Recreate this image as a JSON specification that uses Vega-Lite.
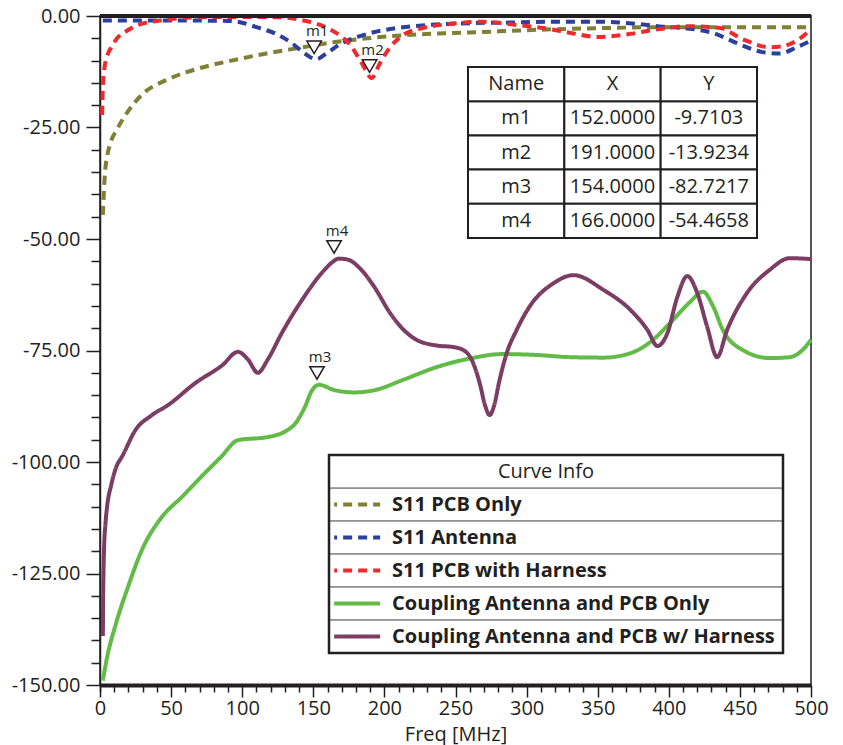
{
 "$schema": "https://vega.github.io/schema/vega-lite/v6.json",
 "width": 711,
 "height": 669,
 "autosize": {"type": "none"},
 "padding": {"left": 100, "top": 16, "right": 32, "bottom": 60},
 "background": "white",
 "config": {
  "font": "Open Sans",
  "locale": {"number": {"decimal": ".", "thousands": ",", "grouping": [3], "currency": ["$", ""], "minus": "-"}},
  "view": {"stroke": "#555555", "strokeWidth": 2}
 },
 "datasets": {
  "curves": [
   {"curve":"S11 PCB Only","freq":2,"value":-44.6},{"curve":"S11 PCB Only","freq":3.5,"value":-35.2},{"curve":"S11 PCB Only","freq":5,"value":-31.5},{"curve":"S11 PCB Only","freq":7,"value":-28.8},{"curve":"S11 PCB Only","freq":12,"value":-25.4},{"curve":"S11 PCB Only","freq":19,"value":-21.7},{"curve":"S11 PCB Only","freq":30,"value":-17.5},{"curve":"S11 PCB Only","freq":47,"value":-14.3},{"curve":"S11 PCB Only","freq":70,"value":-11.7},{"curve":"S11 PCB Only","freq":94,"value":-9.9},{"curve":"S11 PCB Only","freq":117,"value":-8.4},{"curve":"S11 PCB Only","freq":141,"value":-7.1},{"curve":"S11 PCB Only","freq":164,"value":-5.9},{"curve":"S11 PCB Only","freq":188,"value":-5},{"curve":"S11 PCB Only","freq":225,"value":-4.1},{"curve":"S11 PCB Only","freq":260,"value":-3.7},{"curve":"S11 PCB Only","freq":307,"value":-3.1},{"curve":"S11 PCB Only","freq":354,"value":-2.7},{"curve":"S11 PCB Only","freq":401,"value":-2.5},{"curve":"S11 PCB Only","freq":448,"value":-2.5},{"curve":"S11 PCB Only","freq":500,"value":-2.5},
   {"curve":"S11 Antenna","freq":2,"value":-1},{"curve":"S11 Antenna","freq":50,"value":-1},{"curve":"S11 Antenna","freq":90,"value":-1.1},{"curve":"S11 Antenna","freq":100,"value":-1.5},{"curve":"S11 Antenna","freq":110,"value":-2.5},{"curve":"S11 Antenna","freq":123,"value":-3.9},{"curve":"S11 Antenna","freq":135,"value":-6.1},{"curve":"S11 Antenna","freq":144,"value":-8.4},{"curve":"S11 Antenna","freq":152,"value":-9.7},{"curve":"S11 Antenna","freq":160,"value":-8.2},{"curve":"S11 Antenna","freq":170,"value":-6.1},{"curve":"S11 Antenna","freq":181,"value":-4.7},{"curve":"S11 Antenna","freq":193,"value":-3.6},{"curve":"S11 Antenna","freq":209,"value":-2.7},{"curve":"S11 Antenna","freq":232,"value":-2},{"curve":"S11 Antenna","freq":260,"value":-1.6},{"curve":"S11 Antenna","freq":283,"value":-1.5},{"curve":"S11 Antenna","freq":319,"value":-1.3},{"curve":"S11 Antenna","freq":354,"value":-1.3},{"curve":"S11 Antenna","freq":378,"value":-1.8},{"curve":"S11 Antenna","freq":396,"value":-2.4},{"curve":"S11 Antenna","freq":413,"value":-2.8},{"curve":"S11 Antenna","freq":431,"value":-3.8},{"curve":"S11 Antenna","freq":448,"value":-6.1},{"curve":"S11 Antenna","freq":466,"value":-8.1},{"curve":"S11 Antenna","freq":478,"value":-8.4},{"curve":"S11 Antenna","freq":490,"value":-7},{"curve":"S11 Antenna","freq":500,"value":-5.5},
   {"curve":"S11 PCB with Harness","freq":1.5,"value":-22.2},{"curve":"S11 PCB with Harness","freq":2,"value":-16},{"curve":"S11 PCB with Harness","freq":3,"value":-12},{"curve":"S11 PCB with Harness","freq":5,"value":-9},{"curve":"S11 PCB with Harness","freq":8,"value":-7},{"curve":"S11 PCB with Harness","freq":12,"value":-5},{"curve":"S11 PCB with Harness","freq":18,"value":-3.5},{"curve":"S11 PCB with Harness","freq":27,"value":-2},{"curve":"S11 PCB with Harness","freq":45,"value":-0.9},{"curve":"S11 PCB with Harness","freq":70,"value":-0.3},{"curve":"S11 PCB with Harness","freq":100,"value":-0.2},{"curve":"S11 PCB with Harness","freq":128,"value":-0.3},{"curve":"S11 PCB with Harness","freq":140,"value":-0.8},{"curve":"S11 PCB with Harness","freq":150,"value":-1.5},{"curve":"S11 PCB with Harness","freq":160,"value":-2.7},{"curve":"S11 PCB with Harness","freq":168,"value":-4.2},{"curve":"S11 PCB with Harness","freq":176,"value":-6.5},{"curve":"S11 PCB with Harness","freq":184,"value":-10.5},{"curve":"S11 PCB with Harness","freq":191,"value":-13.9},{"curve":"S11 PCB with Harness","freq":197,"value":-10.5},{"curve":"S11 PCB with Harness","freq":204,"value":-7},{"curve":"S11 PCB with Harness","freq":213,"value":-4.3},{"curve":"S11 PCB with Harness","freq":227,"value":-2.7},{"curve":"S11 PCB with Harness","freq":246,"value":-1.8},{"curve":"S11 PCB with Harness","freq":269,"value":-1.3},{"curve":"S11 PCB with Harness","freq":293,"value":-2},{"curve":"S11 PCB with Harness","freq":312,"value":-2.7},{"curve":"S11 PCB with Harness","freq":331,"value":-3.8},{"curve":"S11 PCB with Harness","freq":350,"value":-4.7},{"curve":"S11 PCB with Harness","freq":373,"value":-4},{"curve":"S11 PCB with Harness","freq":390,"value":-3.1},{"curve":"S11 PCB with Harness","freq":413,"value":-2.3},{"curve":"S11 PCB with Harness","freq":436,"value":-2.7},{"curve":"S11 PCB with Harness","freq":452,"value":-5.2},{"curve":"S11 PCB with Harness","freq":471,"value":-7},{"curve":"S11 PCB with Harness","freq":480,"value":-6.8},{"curve":"S11 PCB with Harness","freq":490,"value":-5.5},{"curve":"S11 PCB with Harness","freq":500,"value":-3},
   {"curve":"Coupling Antenna and PCB Only","freq":2,"value":-149},{"curve":"Coupling Antenna and PCB Only","freq":5.5,"value":-143},{"curve":"Coupling Antenna and PCB Only","freq":10.5,"value":-137},{"curve":"Coupling Antenna and PCB Only","freq":19.7,"value":-128},{"curve":"Coupling Antenna and PCB Only","freq":29.5,"value":-119.7},{"curve":"Coupling Antenna and PCB Only","freq":43.6,"value":-112.3},{"curve":"Coupling Antenna and PCB Only","freq":57.7,"value":-107.8},{"curve":"Coupling Antenna and PCB Only","freq":74,"value":-102.4},{"curve":"Coupling Antenna and PCB Only","freq":85,"value":-98.9},{"curve":"Coupling Antenna and PCB Only","freq":97,"value":-95.1},{"curve":"Coupling Antenna and PCB Only","freq":118,"value":-94.4},{"curve":"Coupling Antenna and PCB Only","freq":131,"value":-93},{"curve":"Coupling Antenna and PCB Only","freq":137,"value":-91.5},{"curve":"Coupling Antenna and PCB Only","freq":144,"value":-87.7},{"curve":"Coupling Antenna and PCB Only","freq":149,"value":-84},{"curve":"Coupling Antenna and PCB Only","freq":154,"value":-82.7},{"curve":"Coupling Antenna and PCB Only","freq":165,"value":-83.9},{"curve":"Coupling Antenna and PCB Only","freq":179,"value":-84.4},{"curve":"Coupling Antenna and PCB Only","freq":193,"value":-83.9},{"curve":"Coupling Antenna and PCB Only","freq":213,"value":-81.6},{"curve":"Coupling Antenna and PCB Only","freq":237,"value":-78.7},{"curve":"Coupling Antenna and PCB Only","freq":260,"value":-76.8},{"curve":"Coupling Antenna and PCB Only","freq":283,"value":-75.8},{"curve":"Coupling Antenna and PCB Only","freq":307,"value":-76},{"curve":"Coupling Antenna and PCB Only","freq":331,"value":-76.5},{"curve":"Coupling Antenna and PCB Only","freq":354,"value":-76.6},{"curve":"Coupling Antenna and PCB Only","freq":373,"value":-75.6},{"curve":"Coupling Antenna and PCB Only","freq":387,"value":-73.1},{"curve":"Coupling Antenna and PCB Only","freq":401,"value":-68.8},{"curve":"Coupling Antenna and PCB Only","freq":415,"value":-64.1},{"curve":"Coupling Antenna and PCB Only","freq":424,"value":-61.8},{"curve":"Coupling Antenna and PCB Only","freq":431,"value":-65},{"curve":"Coupling Antenna and PCB Only","freq":438,"value":-70.4},{"curve":"Coupling Antenna and PCB Only","freq":452,"value":-74.9},{"curve":"Coupling Antenna and PCB Only","freq":471,"value":-76.7},{"curve":"Coupling Antenna and PCB Only","freq":485,"value":-76.5},{"curve":"Coupling Antenna and PCB Only","freq":494,"value":-74.9},{"curve":"Coupling Antenna and PCB Only","freq":500,"value":-72.6},
   {"curve":"Coupling Antenna and PCB w/ Harness","freq":2,"value":-139},{"curve":"Coupling Antenna and PCB w/ Harness","freq":2.3,"value":-128},{"curve":"Coupling Antenna and PCB w/ Harness","freq":2.8,"value":-120},{"curve":"Coupling Antenna and PCB w/ Harness","freq":3.8,"value":-114},{"curve":"Coupling Antenna and PCB w/ Harness","freq":5,"value":-110},{"curve":"Coupling Antenna and PCB w/ Harness","freq":8,"value":-105},{"curve":"Coupling Antenna and PCB w/ Harness","freq":11,"value":-101.5},{"curve":"Coupling Antenna and PCB w/ Harness","freq":16,"value":-98.5},{"curve":"Coupling Antenna and PCB w/ Harness","freq":25,"value":-92.8},{"curve":"Coupling Antenna and PCB w/ Harness","freq":36,"value":-89.6},{"curve":"Coupling Antenna and PCB w/ Harness","freq":48,"value":-87.2},{"curve":"Coupling Antenna and PCB w/ Harness","freq":67,"value":-82.3},{"curve":"Coupling Antenna and PCB w/ Harness","freq":86,"value":-78.3},{"curve":"Coupling Antenna and PCB w/ Harness","freq":97,"value":-75.3},{"curve":"Coupling Antenna and PCB w/ Harness","freq":104,"value":-77},{"curve":"Coupling Antenna and PCB w/ Harness","freq":111,"value":-80},{"curve":"Coupling Antenna and PCB w/ Harness","freq":118,"value":-77},{"curve":"Coupling Antenna and PCB w/ Harness","freq":128,"value":-71},{"curve":"Coupling Antenna and PCB w/ Harness","freq":142,"value":-63.7},{"curve":"Coupling Antenna and PCB w/ Harness","freq":156,"value":-57.6},{"curve":"Coupling Antenna and PCB w/ Harness","freq":163,"value":-55.3},{"curve":"Coupling Antenna and PCB w/ Harness","freq":168,"value":-54.4},{"curve":"Coupling Antenna and PCB w/ Harness","freq":174,"value":-54.6},{"curve":"Coupling Antenna and PCB w/ Harness","freq":184,"value":-57},{"curve":"Coupling Antenna and PCB w/ Harness","freq":193,"value":-60.8},{"curve":"Coupling Antenna and PCB w/ Harness","freq":204,"value":-66.6},{"curve":"Coupling Antenna and PCB w/ Harness","freq":213,"value":-70.2},{"curve":"Coupling Antenna and PCB w/ Harness","freq":222,"value":-72.5},{"curve":"Coupling Antenna and PCB w/ Harness","freq":237,"value":-73.9},{"curve":"Coupling Antenna and PCB w/ Harness","freq":248,"value":-74.2},{"curve":"Coupling Antenna and PCB w/ Harness","freq":256,"value":-75},{"curve":"Coupling Antenna and PCB w/ Harness","freq":262,"value":-77.5},{"curve":"Coupling Antenna and PCB w/ Harness","freq":267,"value":-82.3},{"curve":"Coupling Antenna and PCB w/ Harness","freq":271,"value":-87.5},{"curve":"Coupling Antenna and PCB w/ Harness","freq":274,"value":-89.5},{"curve":"Coupling Antenna and PCB w/ Harness","freq":277,"value":-87.5},{"curve":"Coupling Antenna and PCB w/ Harness","freq":281,"value":-81.6},{"curve":"Coupling Antenna and PCB w/ Harness","freq":286,"value":-75.6},{"curve":"Coupling Antenna and PCB w/ Harness","freq":293,"value":-70.4},{"curve":"Coupling Antenna and PCB w/ Harness","freq":302,"value":-65.2},{"curve":"Coupling Antenna and PCB w/ Harness","freq":319,"value":-59.9},{"curve":"Coupling Antenna and PCB w/ Harness","freq":333,"value":-58.1},{"curve":"Coupling Antenna and PCB w/ Harness","freq":354,"value":-61.4},{"curve":"Coupling Antenna and PCB w/ Harness","freq":373,"value":-65.9},{"curve":"Coupling Antenna and PCB w/ Harness","freq":385,"value":-70.4},{"curve":"Coupling Antenna and PCB w/ Harness","freq":392,"value":-74},{"curve":"Coupling Antenna and PCB w/ Harness","freq":396,"value":-73},{"curve":"Coupling Antenna and PCB w/ Harness","freq":399,"value":-71.1},{"curve":"Coupling Antenna and PCB w/ Harness","freq":406,"value":-63},{"curve":"Coupling Antenna and PCB w/ Harness","freq":413,"value":-58.3},{"curve":"Coupling Antenna and PCB w/ Harness","freq":420,"value":-62.1},{"curve":"Coupling Antenna and PCB w/ Harness","freq":427,"value":-69.7},{"curve":"Coupling Antenna and PCB w/ Harness","freq":434,"value":-76.5},{"curve":"Coupling Antenna and PCB w/ Harness","freq":441,"value":-70.4},{"curve":"Coupling Antenna and PCB w/ Harness","freq":455,"value":-62.1},{"curve":"Coupling Antenna and PCB w/ Harness","freq":471,"value":-56.9},{"curve":"Coupling Antenna and PCB w/ Harness","freq":485,"value":-54.3},{"curve":"Coupling Antenna and PCB w/ Harness","freq":500,"value":-54.5}
  ],
  "markers": [
   {"Name":"m1","X":152,"Y":-9.7103},
   {"Name":"m2","X":191,"Y":-13.9234},
   {"Name":"m3","X":154,"Y":-82.7217},
   {"Name":"m4","X":166,"Y":-54.4658}
  ],
  "tableHeader": [{"col":"Name"},{"col":"X"},{"col":"Y"}]
 },
 "resolve": {"scale": {"x": "independent", "y": "independent"}},
 "layer": [
  {
   "resolve": {"axis": {"x": "independent", "y": "independent"}},
   "layer": [
    {
     "data": {"name": "curves"},
     "mark": {"type": "line", "interpolate": "monotone", "strokeWidth": 4, "strokeCap": "butt"},
     "encoding": {
      "x": {"field": "freq", "type": "quantitative", "scale": {"domain": [0, 500], "nice": false, "zero": false},
       "axis": {"orient": "bottom", "title": "Freq [MHz]", "values": [0,50,100,150,200,250,300,350,400,450,500],
        "tickSize": 12, "tickWidth": 1.5, "tickColor": "#231f20", "domainColor": "#231f20", "domainWidth": 4,
        "grid": false, "labelFontSize": 20, "labelColor": "#231f20", "labelPadding": 1, "labelFlush": false, "labelOverlap": false,
        "titleFontSize": 20, "titleFontWeight": "normal", "titleColor": "#231f20", "titlePadding": 6}},
      "y": {"field": "value", "type": "quantitative", "scale": {"domain": [-150, 0], "nice": false, "zero": false},
       "axis": {"orient": "left", "title": null, "values": [-150,-125,-100,-75,-50,-25,0], "format": ".2f",
        "tickSize": 14, "tickWidth": 1.5, "tickColor": "#231f20", "domainColor": "#231f20", "domainWidth": 1.5,
        "grid": false, "labelFontSize": 20, "labelColor": "#231f20", "labelPadding": 6, "labelFlush": false, "labelOverlap": false}},
      "color": {"field": "curve", "type": "nominal", "legend": null,
       "scale": {"domain": ["S11 PCB Only","S11 Antenna","S11 PCB with Harness","Coupling Antenna and PCB Only","Coupling Antenna and PCB w/ Harness"],
        "range": ["#7f7f35","#2b3f9f","#ee2a2e","#62bb46","#7c3d65"]}},
      "strokeDash": {"field": "curve", "type": "nominal", "legend": null,
       "scale": {"domain": ["S11 PCB Only","S11 Antenna","S11 PCB with Harness","Coupling Antenna and PCB Only","Coupling Antenna and PCB w/ Harness"],
        "range": [[9,6],[9,6],[9,6],[1,0],[1,0]]}}
     }
    },
    {
     "data": {"values": [{}]},
     "mark": {"type": "rule", "strokeWidth": 4, "color": "#231f20"},
     "encoding": {"y": {"datum": 0, "type": "quantitative", "axis": null}}
    },
    {
     "data": {"name": "markers"},
     "mark": {"type": "point", "shape": "triangle-down", "filled": true, "fill": "white", "stroke": "#231f20", "strokeWidth": 1.5, "size": 210, "yOffset": -12, "xOffset": -2, "opacity": 1},
     "encoding": {
      "x": {"field": "X", "type": "quantitative",
       "axis": {"orient": "bottom", "title": null, "values": [0,10,20,30,40,60,70,80,90,110,120,130,140,160,170,180,190,210,220,230,240,260,270,280,290,310,320,330,340,360,370,380,390,410,420,430,440,460,470,480,490],
        "labels": false, "domain": false, "grid": false, "tickSize": 7, "tickWidth": 1.5, "tickColor": "#231f20"}},
      "y": {"field": "Y", "type": "quantitative",
       "axis": {"orient": "left", "title": null, "values": [-145,-140,-135,-130,-120,-115,-110,-105,-95,-90,-85,-80,-70,-65,-60,-55,-45,-40,-35,-30,-20,-15,-10,-5],
        "labels": false, "domain": false, "grid": false, "tickSize": 9, "tickWidth": 1.5, "tickColor": "#231f20"}}
     }
    },
    {
     "data": {"name": "markers"},
     "mark": {"type": "text", "fontSize": 15, "dy": -28, "dx": 1, "color": "#231f20"},
     "encoding": {"x": {"field": "X", "type": "quantitative", "axis": null}, "y": {"field": "Y", "type": "quantitative", "axis": null}, "text": {"field": "Name"}}
    }
   ]
  },
  {
   "layer": [
    {
     "data": {"name": "markers"},
     "transform": [{"fold": ["Name", "X", "Y"], "as": ["col", "val"]}],
     "mark": {"type": "rect", "fill": "white", "stroke": "#231f20", "strokeWidth": 2},
     "encoding": {
      "x": {"field": "col", "type": "nominal", "axis": null, "scale": {"type": "band", "domain": ["Name","X","Y"], "range": [368, 657], "paddingInner": 0, "paddingOuter": 0}},
      "y": {"field": "Name", "type": "nominal", "axis": null, "scale": {"type": "band", "domain": ["header","m1","m2","m3","m4"], "range": [51, 222], "paddingInner": 0, "paddingOuter": 0}}
     }
    },
    {
     "data": {"name": "tableHeader"},
     "mark": {"type": "rect", "fill": "white", "stroke": "#231f20", "strokeWidth": 2},
     "encoding": {
      "x": {"field": "col", "type": "nominal", "axis": null, "scale": {"type": "band", "domain": ["Name","X","Y"], "range": [368, 657], "paddingInner": 0, "paddingOuter": 0}},
      "y": {"datum": "header", "type": "nominal", "axis": null, "scale": {"type": "band", "domain": ["header","m1","m2","m3","m4"], "range": [51, 222], "paddingInner": 0, "paddingOuter": 0}}
     }
    },
    {
     "data": {"name": "tableHeader"},
     "mark": {"type": "text", "fontSize": 20, "color": "#231f20", "align": "center", "baseline": "middle"},
     "encoding": {
      "x": {"field": "col", "type": "nominal", "axis": null, "scale": {"type": "band", "domain": ["Name","X","Y"], "range": [368, 657], "paddingInner": 0, "paddingOuter": 0}},
      "y": {"datum": "header", "type": "nominal", "axis": null, "scale": {"type": "band", "domain": ["header","m1","m2","m3","m4"], "range": [51, 222], "paddingInner": 0, "paddingOuter": 0}},
      "text": {"field": "col"}
     }
    },
    {
     "data": {"name": "markers"},
     "mark": {"type": "text", "fontSize": 20, "color": "#231f20", "align": "center", "baseline": "middle"},
     "encoding": {
      "x": {"datum": "Name", "type": "nominal", "axis": null, "scale": {"type": "band", "domain": ["Name","X","Y"], "range": [368, 657], "paddingInner": 0, "paddingOuter": 0}},
      "y": {"field": "Name", "type": "nominal", "axis": null, "scale": {"type": "band", "domain": ["header","m1","m2","m3","m4"], "range": [51, 222], "paddingInner": 0, "paddingOuter": 0}},
      "text": {"field": "Name"}
     }
    },
    {
     "data": {"name": "markers"},
     "mark": {"type": "text", "fontSize": 20, "color": "#231f20", "align": "center", "baseline": "middle"},
     "encoding": {
      "x": {"datum": "X", "type": "nominal", "axis": null, "scale": {"type": "band", "domain": ["Name","X","Y"], "range": [368, 657], "paddingInner": 0, "paddingOuter": 0}},
      "y": {"field": "Name", "type": "nominal", "axis": null, "scale": {"type": "band", "domain": ["header","m1","m2","m3","m4"], "range": [51, 222], "paddingInner": 0, "paddingOuter": 0}},
      "text": {"field": "X", "type": "quantitative", "format": ".4f"}
     }
    },
    {
     "data": {"name": "markers"},
     "mark": {"type": "text", "fontSize": 20, "color": "#231f20", "align": "center", "baseline": "middle"},
     "encoding": {
      "x": {"datum": "Y", "type": "nominal", "axis": null, "scale": {"type": "band", "domain": ["Name","X","Y"], "range": [368, 657], "paddingInner": 0, "paddingOuter": 0}},
      "y": {"field": "Name", "type": "nominal", "axis": null, "scale": {"type": "band", "domain": ["header","m1","m2","m3","m4"], "range": [51, 222], "paddingInner": 0, "paddingOuter": 0}},
      "text": {"field": "Y", "type": "quantitative", "format": ".4f"}
     }
    }
   ]
  },
  {
   "resolve": {"scale": {"y": "independent"}},
   "layer": [
    {
     "data": {"name": "curves"},
     "transform": [{"aggregate": [{"op": "count", "as": "n"}], "groupby": ["curve"]}],
     "mark": {"type": "rect", "fill": "white", "stroke": "#8c8c8c", "strokeWidth": 1.5},
     "encoding": {
      "x": {"datum": 0, "type": "quantitative", "axis": null, "scale": {"domain": [0, 1], "range": [229, 683], "nice": false, "zero": false}},
      "x2": {"datum": 1},
      "y": {"field": "curve", "type": "nominal", "axis": null, "scale": {"type": "band", "domain": ["Curve Info","S11 PCB Only","S11 Antenna","S11 PCB with Harness","Coupling Antenna and PCB Only","Coupling Antenna and PCB w/ Harness"], "range": [439, 637], "paddingInner": 0, "paddingOuter": 0}}
     }
    },
    {
     "data": {"values": [{}]},
     "mark": {"type": "rect", "fill": "white", "stroke": "#8c8c8c", "strokeWidth": 1.5},
     "encoding": {
      "x": {"datum": 0, "type": "quantitative", "axis": null, "scale": {"domain": [0, 1], "range": [229, 683], "nice": false, "zero": false}},
      "x2": {"datum": 1},
      "y": {"datum": "Curve Info", "type": "nominal", "axis": null, "scale": {"type": "band", "domain": ["Curve Info","S11 PCB Only","S11 Antenna","S11 PCB with Harness","Coupling Antenna and PCB Only","Coupling Antenna and PCB w/ Harness"], "range": [439, 637], "paddingInner": 0, "paddingOuter": 0}}
     }
    },
    {
     "data": {"values": [{}]},
     "mark": {"type": "text", "text": "Curve Info", "fontSize": 20, "color": "#231f20", "align": "center", "baseline": "middle"},
     "encoding": {
      "x": {"datum": 0.478, "type": "quantitative", "axis": null, "scale": {"domain": [0, 1], "range": [229, 683], "nice": false, "zero": false}},
      "y": {"datum": "Curve Info", "type": "nominal", "axis": null, "scale": {"type": "band", "domain": ["Curve Info","S11 PCB Only","S11 Antenna","S11 PCB with Harness","Coupling Antenna and PCB Only","Coupling Antenna and PCB w/ Harness"], "range": [439, 637], "paddingInner": 0, "paddingOuter": 0}}
     }
    },
    {
     "data": {"name": "curves"},
     "transform": [{"aggregate": [{"op": "count", "as": "n"}], "groupby": ["curve"]}],
     "mark": {"type": "point", "shape": "M-1,0L1,0", "size": 2116, "filled": false, "strokeWidth": 4, "strokeCap": "butt", "strokeDashOffset": 6, "opacity": 1},
     "encoding": {
      "x": {"datum": 0.062, "type": "quantitative", "axis": null, "scale": {"domain": [0, 1], "range": [229, 683], "nice": false, "zero": false}},
      "y": {"field": "curve", "type": "nominal", "axis": null, "scale": {"type": "band", "domain": ["Curve Info","S11 PCB Only","S11 Antenna","S11 PCB with Harness","Coupling Antenna and PCB Only","Coupling Antenna and PCB w/ Harness"], "range": [439, 637], "paddingInner": 0, "paddingOuter": 0}},
      "color": {"field": "curve", "type": "nominal", "legend": null},
      "strokeDash": {"field": "curve", "type": "nominal", "legend": null}
     }
    },
    {
     "data": {"name": "curves"},
     "transform": [{"aggregate": [{"op": "count", "as": "n"}], "groupby": ["curve"]}],
     "mark": {"type": "text", "fontSize": 20, "fontWeight": "bold", "color": "#231f20", "align": "left", "baseline": "middle"},
     "encoding": {
      "x": {"datum": 0.139, "type": "quantitative", "axis": null, "scale": {"domain": [0, 1], "range": [229, 683], "nice": false, "zero": false}},
      "y": {"field": "curve", "type": "nominal", "axis": null, "scale": {"type": "band", "domain": ["Curve Info","S11 PCB Only","S11 Antenna","S11 PCB with Harness","Coupling Antenna and PCB Only","Coupling Antenna and PCB w/ Harness"], "range": [439, 637], "paddingInner": 0, "paddingOuter": 0}},
      "text": {"field": "curve"}
     }
    },
    {
     "data": {"values": [{}]},
     "mark": {"type": "rect", "fill": "white", "fillOpacity": 0, "stroke": "#231f20", "strokeWidth": 2.5},
     "encoding": {
      "x": {"datum": 0, "type": "quantitative", "axis": null, "scale": {"domain": [0, 1], "range": [229, 683], "nice": false, "zero": false}},
      "x2": {"datum": 1},
      "y": {"datum": 0, "type": "quantitative", "axis": null, "scale": {"domain": [0, 1], "range": [439, 637], "nice": false, "zero": false}},
      "y2": {"datum": 1}
     }
    }
   ]
  }
 ]
}
